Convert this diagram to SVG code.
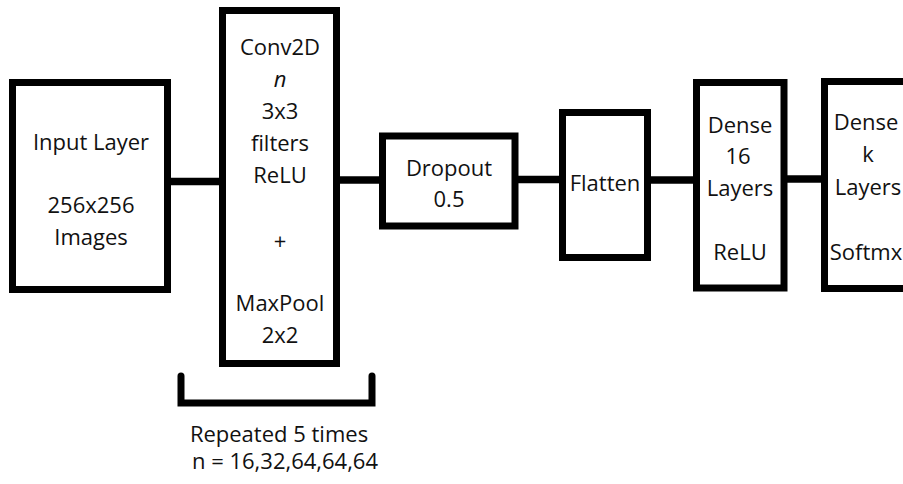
<svg xmlns="http://www.w3.org/2000/svg" width="903" height="484" viewBox="0 0 903 484">
<style>
.box{fill:#fff;stroke:#000;stroke-width:7}
.ln{stroke:#000;stroke-width:7.5;fill:none}
text{font-family:"Open Sans","Liberation Sans",sans-serif;font-size:22px;fill:#111;text-anchor:middle}
</style>
<rect width="903" height="484" fill="#fff"/>
<g id="connectors">
<line class="ln" x1="171" y1="181.5" x2="220" y2="181.5"/>
<line class="ln" x1="340" y1="180" x2="380" y2="180"/>
<line class="ln" x1="518" y1="179.5" x2="560" y2="179.5"/>
<line class="ln" x1="651" y1="180" x2="694" y2="180"/>
<line class="ln" x1="787" y1="179" x2="822" y2="179"/>
</g>
<g id="input">
<rect class="box" x="12.5" y="82.5" width="155" height="207"/>
<text x="91" y="150">Input Layer</text>
<text x="91" y="213">256x256</text>
<text x="91" y="245">Images</text>
</g>
<g id="conv">
<rect class="box" x="222.5" y="10.5" width="114" height="353"/>
<text x="280" y="55">Conv2D</text>
<text x="280" y="87" font-style="italic">n</text>
<text x="280" y="119">3x3</text>
<text x="280" y="151">filters</text>
<text x="280" y="183">ReLU</text>
<text x="280" y="249">+</text>
<text x="280" y="311">MaxPool</text>
<text x="280" y="343">2x2</text>
</g>
<g id="dropout">
<rect class="box" x="382.5" y="136" width="132.5" height="90"/>
<text x="449" y="176">Dropout</text>
<text x="449" y="207">0.5</text>
</g>
<g id="flatten">
<rect class="box" x="562.5" y="112.5" width="85" height="145"/>
<text x="605" y="191">Flatten</text>
</g>
<g id="dense16">
<rect class="box" x="696.5" y="82.5" width="87.5" height="205.5"/>
<text x="740" y="133">Dense</text>
<text x="738" y="164">16</text>
<text x="740" y="196">Layers</text>
<text x="740" y="260">ReLU</text>
</g>
<g id="densek">
<rect class="box" x="824.5" y="81.5" width="110" height="207"/>
<text x="866" y="130">Dense</text>
<text x="868" y="162">k</text>
<text x="868" y="195">Layers</text>
<text x="866" y="260">Softmx</text>
</g>
<g id="bracket">
<path d="M181 376 V403 H372 V376" fill="none" stroke="#000" stroke-width="7" stroke-linecap="round" stroke-linejoin="miter"/>
<text x="279" y="442">Repeated 5 times</text>
<text x="285" y="469">n = 16,32,64,64,64</text>
</g>
</svg>
